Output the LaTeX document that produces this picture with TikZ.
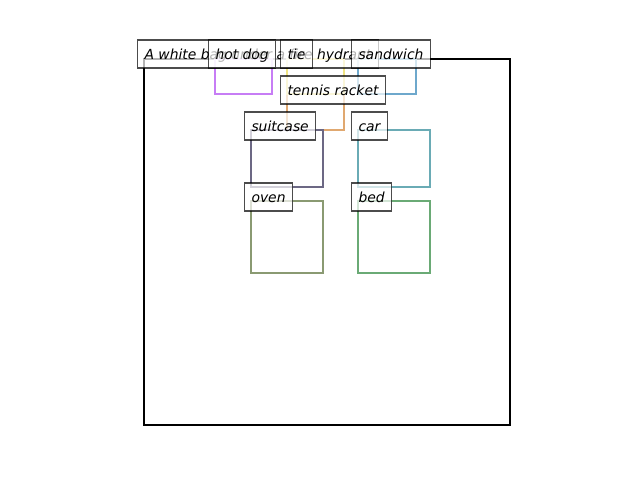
\documentclass[tikz,border=0pt]{standalone}
\usepackage{fontspec}
\setmainfont{DejaVu Sans}
\definecolor{chotdog}{RGB}{199,125,245}
\definecolor{ctie}{RGB}{240,228,130}
\definecolor{csandwich}{RGB}{110,168,204}
\definecolor{cracket}{RGB}{224,168,112}
\definecolor{csuitcase}{RGB}{108,104,132}
\definecolor{ccar}{RGB}{106,171,181}
\definecolor{coven}{RGB}{138,154,114}
\definecolor{cbed}{RGB}{106,170,117}
\tikzset{
  objbox/.style={line width=2pt},
  lbl/.style={anchor=west, draw=black, draw opacity=0.7, fill=white, fill opacity=0.7,
    text opacity=1, inner xsep=5pt, inner ysep=5.08pt, text height=8.6pt, text depth=1.4pt,
    font=\fontsize{10pt}{12pt}\selectfont\itshape, line width=0.8pt}
}
\begin{document}
\begin{tikzpicture}[x=0.72pt,y=-0.72pt]
\useasboundingbox (0,0) rectangle (640,480);
% axes frame
\draw[line width=1.7pt, black] (144,59) rectangle (510,425);
% object boxes
\draw[objbox, chotdog] (215,59) rectangle (272,94);
\draw[objbox, cracket] (287,94) rectangle (344,130);
\draw[objbox, ctie] (287,59) rectangle (344,94);
\draw[objbox, csandwich] (358,59) rectangle (416,94);
\draw[objbox, csuitcase] (251,130) rectangle (323,187);
\draw[objbox, ccar] (358,130) rectangle (430,187);
\draw[objbox, coven] (251,201) rectangle (323,273);
\draw[objbox, cbed] (358,201) rectangle (430,273);
% labels
\node[lbl] (caption) at (137,54) {A white bag under a fire hydrant};
\node[lbl] (hotdog) at (208,54) {hot dog};
\node[lbl] (tie) at (280,54) {tie};
\node[lbl] (sandwich) at (351,54) {sandwich};
\node[lbl] (racket) at (280,90) {tennis racket};
\node[lbl] (suitcase) at (244,126) {suitcase};
\node[lbl] (car) at (351,126) {car};
\node[lbl] (oven) at (244,197) {oven};
\node[lbl] (bed) at (351,197) {bed};
\end{tikzpicture}
\end{document}
